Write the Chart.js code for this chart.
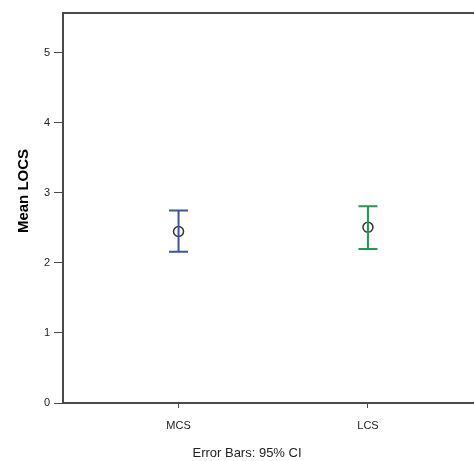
<!DOCTYPE html>
<html>
<head>
<meta charset="utf-8">
<script src="https://cdn.jsdelivr.net/npm/chart.js@4.4.1/dist/chart.umd.min.js"></script>
<style>
  html, body { margin: 0; padding: 0; background: #fff; overflow: hidden; }
  #wrap { width: 490px; height: 461px; }
</style>
</head>
<body>
<div id="wrap"><canvas id="errChart" width="490" height="461"></canvas></div>
<script>
// groups and their 95% CI values for Mean LOCS
var groups = ['MCS', 'LCS'];
var means = [2.45, 2.51];
var lowerCI = [2.16, 2.20];
var upperCI = [2.75, 2.81];
var barColors = ['#3b55a8', '#1f9a4e'];
var yTicks = [0, 1, 2, 3, 4, 5];

var axisColor = '#4a4a4a';
var font = 'Liberation Sans, Arial, sans-serif';

var errorBarPlugin = {
	id: 'errorBars',
	afterDatasetsDraw: function(chart) {
		var ctx = chart.ctx, xs = chart.scales.x, ys = chart.scales.y;
		ctx.save();
		for (var i = 0; i < groups.length; i++) {
			var px = xs.getPixelForValue(i);
			var top = ys.getPixelForValue(upperCI[i]);
			var bot = ys.getPixelForValue(lowerCI[i]);
			ctx.strokeStyle = barColors[i];
			ctx.lineWidth = 2;
			ctx.beginPath();
			ctx.moveTo(px, top); ctx.lineTo(px, bot);
			ctx.moveTo(px - 9.5, top); ctx.lineTo(px + 9.5, top);
			ctx.moveTo(px - 9.5, bot); ctx.lineTo(px + 9.5, bot);
			ctx.stroke();
		}
		ctx.restore();
	}
};

var titlesPlugin = {
	id: 'titles',
	afterDraw: function(chart) {
		var ctx = chart.ctx;
		ctx.save();
		ctx.fillStyle = '#000';
		ctx.font = 'bold 15px ' + font;
		ctx.textAlign = 'center';
		ctx.textBaseline = 'middle';
		ctx.translate(24, 191);
		ctx.rotate(-Math.PI / 2);
		ctx.fillText('Mean LOCS', 0, 0);
		ctx.restore();
		ctx.save();
		ctx.fillStyle = '#222';
		ctx.font = '13px ' + font;
		ctx.textAlign = 'center';
		ctx.textBaseline = 'middle';
		ctx.fillText('Error Bars: 95% CI', 247, 453);
		ctx.restore();
	}
};

new Chart(document.getElementById('errChart'), {
	type: 'scatter',
	data: {
		datasets: [{
			label: 'Mean',
			data: means.map(function(m, i) { return {x: i, y: m}; }),
			pointStyle: 'circle',
			pointRadius: 5,
			pointBorderWidth: 1.5,
			pointBorderColor: '#333',
			pointBackgroundColor: 'rgba(0,0,0,0)'
		}]
	},
	options: {
		responsive: false,
		animation: false,
		layout: { padding: { left: 0, top: 13, right: 5, bottom: 0 } },
		plugins: { legend: { display: false }, tooltip: { enabled: false } },
		scales: {
			x: {
				type: 'linear',
				min: -0.61,
				max: 1.61,
				afterBuildTicks: function(scale) {
					scale.ticks = groups.map(function(g, i) { return {value: i}; });
				},
				afterFit: function(scale) { scale.height = 58; },
				ticks: {
					callback: function(v) { return groups[v]; },
					color: '#222',
					font: { family: font, size: 11 },
					padding: 11,
					maxRotation: 0
				},
				grid: { drawOnChartArea: false, tickLength: 5, tickColor: axisColor, tickWidth: 1 },
				border: { color: axisColor, width: 2 }
			},
			xTop: {
				type: 'linear',
				position: 'top',
				min: -0.61,
				max: 1.61,
				afterFit: function(scale) { scale.height = 0; },
				ticks: { display: false },
				grid: { display: false },
				border: { color: axisColor, width: 2 }
			},
			y: {
				min: 0,
				max: 5.57,
				afterBuildTicks: function(scale) {
					scale.ticks = yTicks.map(function(v) { return {value: v}; });
				},
				afterFit: function(scale) { scale.width = 63; },
				ticks: {
					color: '#222',
					font: { family: font, size: 11 },
					padding: 4
				},
				grid: { drawOnChartArea: false, tickLength: 9, tickColor: axisColor, tickWidth: 1 },
				border: { color: axisColor, width: 2 }
			}
		}
	},
	plugins: [errorBarPlugin, titlesPlugin]
});
</script>
</body>
</html>
